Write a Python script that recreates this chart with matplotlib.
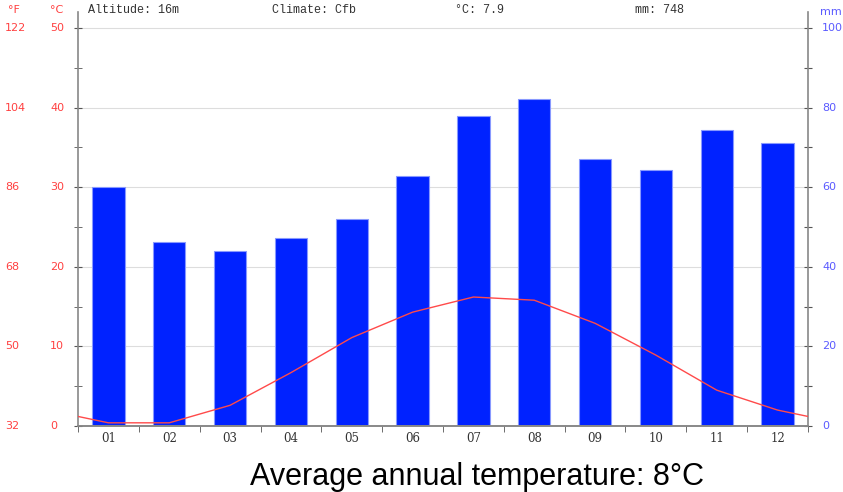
import matplotlib.pyplot as plt
import matplotlib.transforms as mtransforms
import numpy as np

months = ['01', '02', '03', '04', '05', '06', '07', '08', '09', '10', '11', '12']
precip_mm = [60.0, 46.2, 44.0, 47.2, 52.0, 62.8, 77.9, 82.2, 67.1, 64.3, 74.4, 71.1]
temp_c = [0.4, 0.4, 2.6, 6.7, 11.1, 14.3, 16.2, 15.8, 12.9, 8.9, 4.5, 2.0]
c_ticks = [0, 10, 20, 30, 40, 50]
f_ticks = ['32', '50', '68', '86', '104', '122']
mm_ticks = [0, 20, 40, 60, 80, 100]

red = '#ff4040'
blue = '#5a5aff'
mono = 'Liberation Mono'

fig = plt.figure(figsize=(8.43, 4.92), dpi=100)
ax = fig.add_axes([78 / 843, 66 / 492, 730 / 843, 414 / 492])
ax2 = ax.twinx()

x = np.arange(len(months))
# gridlines sit behind the bars
for m in mm_ticks[1:]:
    ax2.axhline(m, color='#dddddd', lw=0.8, zorder=0)
ax2.bar(x, precip_mm, width=0.53, color='#0022ff', edgecolor='#8899ff', linewidth=0.8, zorder=2)
ax2.set_ylim(0, 104)

# temperature line drawn above the bars, wrapped to the edges
edge = (temp_c[0] + temp_c[-1]) / 2
tx = np.concatenate([[-0.5], x, [11.5]])
ty = np.concatenate([[edge], temp_c, [edge]])
ax.plot(tx, ty, color='#ff4a4a', lw=1.0, zorder=5)
ax.set_zorder(ax2.get_zorder() + 1)
ax.patch.set_visible(False)

ax.set_xlim(-0.5, 11.5)
ax.set_ylim(0, 52)

for a in (ax, ax2):
    a.spines['top'].set_visible(False)
    for s in ('left', 'right', 'bottom'):
        a.spines[s].set_color('#888888')
        a.spines[s].set_linewidth(1.2)

ax.spines['right'].set_visible(False)
ax2.spines['left'].set_visible(False)

ax.set_yticks(c_ticks)
ax.set_yticks(np.arange(5, 50, 10), minor=True)
ax.set_yticklabels([])
ax.tick_params(axis='y', which='both', direction='inout', length=6, color='#555555')
ax2.set_yticks(np.arange(0, 101, 10))
ax2.set_yticklabels([])
ax2.tick_params(axis='y', direction='inout', length=6, color='#555555')

ax.set_xticks(x)
ax.set_xticklabels(months, fontsize=8.5, family='DejaVu Serif', color='#333333')
ax.set_xticks(np.arange(-0.5, 12, 1), minor=True)
ax.tick_params(axis='x', which='major', length=0, pad=4)
ax.tick_params(axis='x', which='minor', length=4, color='#555555')

tl = mtransforms.blended_transform_factory(fig.transFigure, ax.transData)
tr = mtransforms.blended_transform_factory(fig.transFigure, ax2.transData)
for c, f in zip(c_ticks, f_ticks):
    ax.text(5 / 843, c, f, transform=tl, color=red, fontsize=8, ha='left', va='center', family='DejaVu Sans')
    ax.text(50 / 843, c, str(c), transform=tl, color=red, fontsize=8, ha='left', va='center', family='DejaVu Sans')
for m in mm_ticks:
    ax2.text(822 / 843, m, str(m), transform=tr, color=blue, fontsize=8, ha='left', va='center', family='DejaVu Sans')

fig.text(8 / 843, 1 - 10 / 492, '°F', color=red, fontsize=8, va='center', ha='left')
fig.text(50 / 843, 1 - 10 / 492, '°C', color=red, fontsize=8, va='center', ha='left')
fig.text(820 / 843, 1 - 12 / 492, 'mm', color=blue, fontsize=8, va='center', ha='left')

header = [(88, 'Altitude: 16m'), (272, 'Climate: Cfb'), (455, '°C: 7.9'), (635, 'mm: 748')]
for px, t in header:
    fig.text(px / 843, 1 - 10 / 492, t, family=mono, fontsize=8.5, color='#333333',
             va='center', ha='left')

fig.text(477 / 843, 1 - 485 / 492, 'Average annual temperature: 8°C', family='Liberation Sans',
         fontsize=22, ha='center', va='baseline', color='black')

fig.savefig('out.png', dpi=100)
